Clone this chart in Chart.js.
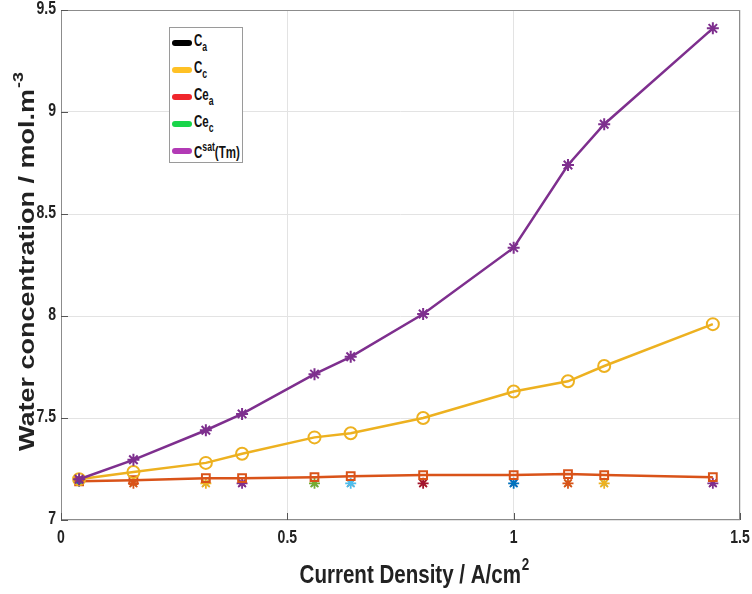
<!DOCTYPE html>
<html>
<head>
<meta charset="utf-8">
<script src="https://cdn.jsdelivr.net/npm/chart.js@4.4.1/dist/chart.umd.min.js"></script>
<style>
    body { margin: 0; background: #fff; }
    #wrap { position: relative; width: 752px; height: 594px; }
    #legend {
        position: absolute; left: 169px; top: 27px; width: 74px; height: 136px;
        border: 1px solid #9a9a9a; background: #fff; box-sizing: border-box;
        font-family: "Liberation Sans", Arial, sans-serif;
        font-weight: bold; font-size: 16px; color: #111; padding-top: 1px;
    }
    #legend div { display: flex; align-items: center; height: 27px; margin-left: 2px; }
    #legend span.sw { flex: 0 0 20px; height: 6px; border-radius: 3px; margin-right: 2px; }
    #legend span.tx { flex: 0 0 auto; transform: scaleX(0.72); transform-origin: left center; white-space: nowrap; }
    #legend sub { font-size: 12px; vertical-align: -5px; }
    #legend sup { font-size: 12px; vertical-align: 7px; }
</style>
</head>
<body>
<div id="wrap">
    <canvas id="chart" width="752" height="594"></canvas>
    <div id="legend">
        <div><span class="sw" style="background:#000"></span><span class="tx">C<sub>a</sub></span></div>
        <div><span class="sw" style="background:#ffc125"></span><span class="tx">C<sub>c</sub></span></div>
        <div><span class="sw" style="background:#f0262c"></span><span class="tx">Ce<sub>a</sub></span></div>
        <div><span class="sw" style="background:#19d54a"></span><span class="tx">Ce<sub>c</sub></span></div>
        <div><span class="sw" style="background:#b23ab5"></span><span class="tx">C<sup>sat</sup>(Tm)</span></div>
    </div>
</div>
<script>
// current density (A/cm2)
const currentDensity = [0.04, 0.16, 0.32, 0.40, 0.56, 0.64, 0.80, 1.00, 1.12, 1.20, 1.44];

// water concentration (mol/m3)
const cA = [7.19, 7.18, 7.18, 7.18, 7.18, 7.18, 7.18, 7.18, 7.18, 7.18, 7.18];
const cC = [7.20, 7.235, 7.28, 7.325, 7.405, 7.425, 7.50, 7.63, 7.68, 7.755, 7.96];
const ceA = [7.19, 7.195, 7.205, 7.205, 7.21, 7.215, 7.22, 7.22, 7.225, 7.22, 7.21];
const ceC = [7.19, 7.18, 7.18, 7.18, 7.18, 7.18, 7.18, 7.18, 7.18, 7.18, 7.18];
const cSat = [7.20, 7.295, 7.44, 7.52, 7.715, 7.80, 8.01, 8.335, 8.74, 8.94, 9.41];

const xTicks = [0, 0.5, 1, 1.5];
const yTicks = [7, 7.5, 8, 8.5, 9, 9.5];

// matlab default colour order, the hidden series cycle through it per point
const matlabColors = ["#0072BD", "#D95319", "#EDB120", "#7E2F8E", "#77AC30", "#4DBEEE", "#A2142F"];
const cycle = (offset) => currentDensity.map((_, i) => matlabColors[(i + offset) % matlabColors.length]);

const toPts = (ys) => currentDensity.map((x, i) => ({ x: x, y: ys[i] }));

const FAM = "'Liberation Sans', Arial, sans-serif";

// text + superscript, centred on the origin, baseline at y=0
function withSup(ctx, main, sup, size) {
    ctx.font = "bold " + size + "px " + FAM;
    const w1 = ctx.measureText(main).width;
    ctx.font = "bold " + Math.round(size * 0.65) + "px " + FAM;
    const w2 = ctx.measureText(sup).width;
    const start = -(w1 + w2) / 2;
    ctx.textBaseline = "alphabetic";
    ctx.textAlign = "left";
    ctx.font = "bold " + size + "px " + FAM;
    ctx.fillText(main, start, 0);
    ctx.font = "bold " + Math.round(size * 0.65) + "px " + FAM;
    ctx.fillText(sup, start + w1 + 1, -size * 0.5);
}

// squeezed tick label (the export is narrow)
function tickLabel(ctx, text, x, y, align) {
    ctx.save();
    ctx.translate(x, y);
    ctx.scale(0.78, 1);
    ctx.font = "bold 18px " + FAM;
    ctx.textAlign = align;
    ctx.textBaseline = "middle";
    ctx.fillText(text, 0, 0);
    ctx.restore();
}

const boxPlugin = {
    id: "box",
    afterDraw(c) {
        const a = c.chartArea;
        const ctx = c.ctx;
        ctx.save();
        ctx.strokeStyle = "#8c8c8c";
        ctx.lineWidth = 1;
        ctx.strokeRect(a.left + 0.5, a.top + 0.5, a.right - a.left - 1, a.bottom - a.top - 1);
        // inward tick marks
        ctx.strokeStyle = "#555";
        xTicks.forEach((t) => {
            const px = Math.round(c.scales.x.getPixelForValue(t)) + 0.5;
            ctx.beginPath();
            ctx.moveTo(px, a.bottom);
            ctx.lineTo(px, a.bottom - 7);
            ctx.stroke();
        });
        yTicks.forEach((t) => {
            const py = Math.round(c.scales.y.getPixelForValue(t)) + 0.5;
            ctx.beginPath();
            ctx.moveTo(a.left, py);
            ctx.lineTo(a.left + 7, py);
            ctx.stroke();
        });
        ctx.restore();

        // tick labels
        ctx.save();
        ctx.fillStyle = "#222";
        xTicks.forEach((t) => tickLabel(ctx, String(t), c.scales.x.getPixelForValue(t), a.bottom + 18, "center"));
        yTicks.forEach((t) => tickLabel(ctx, String(t), a.left - 5, c.scales.y.getPixelForValue(t) - 1, "right"));
        ctx.restore();

        // axis titles
        ctx.save();
        ctx.fillStyle = "#222";
        ctx.translate(414, 583);
        ctx.scale(0.79, 1);
        withSup(ctx, "Current Density / A/cm", "2", 26);
        ctx.restore();

        ctx.save();
        ctx.fillStyle = "#222";
        ctx.translate(34, 262);
        ctx.rotate(-Math.PI / 2);
        ctx.scale(1, 0.8);
        withSup(ctx, "Water concentration / mol.m", "-3", 27);
        ctx.restore();
    },
};

new Chart(document.getElementById("chart"), {
    type: "line",
    data: {
        datasets: [
            {
                label: "Csat(Tm)",
                data: toPts(cSat),
                borderColor: "#7E2F8E",
                pointBorderColor: "#7E2F8E",
                pointBackgroundColor: "#7E2F8E",
                borderWidth: 2.5,
                pointStyle: "star",
                pointRadius: 6,
                pointBorderWidth: 2,
            },
            {
                label: "Cc",
                data: toPts(cC),
                borderColor: "#EDB120",
                pointBorderColor: "#EDB120",
                pointBackgroundColor: "rgba(0,0,0,0)",
                borderWidth: 2.5,
                pointStyle: "circle",
                pointRadius: 6,
                pointBorderWidth: 2,
            },
            {
                label: "Cea",
                data: toPts(ceA),
                borderColor: "#D95319",
                pointBorderColor: "#D95319",
                pointBackgroundColor: "rgba(0,0,0,0)",
                borderWidth: 2.5,
                pointStyle: "rect",
                pointRadius: 5.5,
                pointBorderWidth: 2,
            },
            {
                label: "Ca",
                data: toPts(cA),
                showLine: false,
                pointBorderColor: cycle(0),
                pointBackgroundColor: cycle(0),
                pointStyle: "star",
                pointRadius: 5.5,
                pointBorderWidth: 1.8,
            },
            {
                label: "Cec",
                data: toPts(ceC),
                showLine: false,
                pointBorderColor: cycle(3),
                pointBackgroundColor: cycle(3),
                pointStyle: "crossRot",
                pointRadius: 4.5,
                pointBorderWidth: 1.8,
            },
        ],
    },
    options: {
        responsive: false,
        animation: false,
        layout: { padding: { top: 10, right: 12, left: 0, bottom: 0 } },
        scales: {
            x: {
                type: "linear",
                min: 0,
                max: 1.5,
                afterBuildTicks: (s) => { s.ticks = xTicks.map((v) => ({ value: v })); },
                afterFit: (s) => { s.height = 74; },
                grid: { color: "#e3e3e3", drawTicks: false },
                border: { display: false },
                ticks: { display: false },
            },
            y: {
                min: 7,
                max: 9.5,
                afterBuildTicks: (s) => { s.ticks = yTicks.map((v) => ({ value: v })); },
                afterFit: (s) => { s.width = 61; },
                grid: { color: "#e3e3e3", drawTicks: false },
                border: { display: false },
                ticks: { display: false },
            },
        },
        plugins: {
            legend: { display: false },
            tooltip: { enabled: false },
        },
    },
    plugins: [boxPlugin],
});
</script>
</body>
</html>
